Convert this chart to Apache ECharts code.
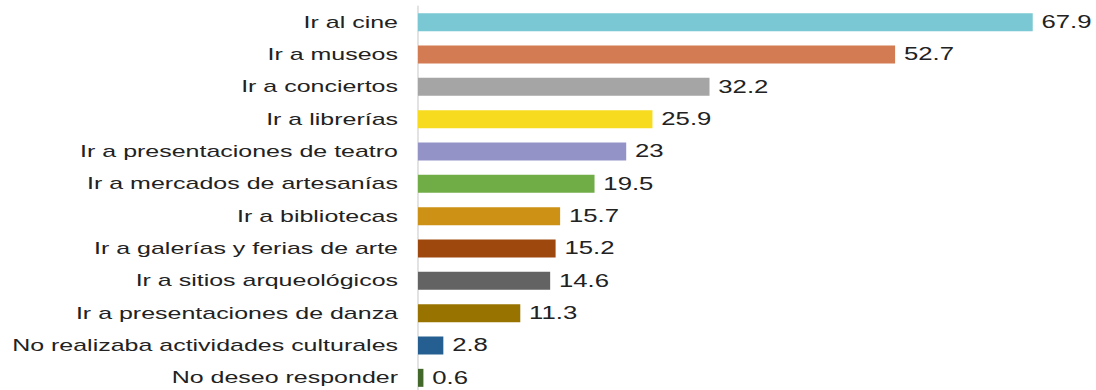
<!DOCTYPE html>
<html>
<head>
<meta charset="utf-8">
<script src="https://cdn.jsdelivr.net/npm/echarts@6/dist/echarts.min.js"></script>
<style>
  html, body { margin: 0; padding: 0; background: #fff; overflow: hidden; }
  /* the chart is laid out narrower and widened horizontally to a wide, stretched type look */
  #chart {
    width: 746px; height: 400px;
    transform: scaleX(1.4692);
    transform-origin: 0 0;
  }
</style>
</head>
<body>
<div id="chart"></div>
<script>
// Cultural activities, percentage of respondents
const categories = [
  'Ir al cine',
  'Ir a museos',
  'Ir a conciertos',
  'Ir a librerías',
  'Ir a presentaciones de teatro',
  'Ir a mercados de artesanías',
  'Ir a bibliotecas',
  'Ir a galerías y ferias de arte',
  'Ir a sitios arqueológicos',
  'Ir a presentaciones de danza',
  'No realizaba actividades culturales',
  'No deseo responder'
];
const values = [67.9, 52.7, 32.2, 25.9, 23, 19.5, 15.7, 15.2, 14.6, 11.3, 2.8, 0.6];
const barColors = [
  '#79C8D3', '#D37B53', '#A5A5A5', '#F6DB1E', '#9393C8', '#71AD47',
  '#CC9115', '#9E480E', '#636363', '#997300', '#255E91', '#43682B'
];

const chart = echarts.init(document.getElementById('chart'), null, { renderer: 'svg' });
chart.setOption({
  animation: false,
  grid: { left: 284.5, top: 6, width: 456, height: 388, containLabel: false },
  xAxis: {
    type: 'value', min: 0, max: 74,
    show: false
  },
  yAxis: {
    type: 'category',
    data: categories,
    inverse: true,
    axisLine: { show: true, lineStyle: { color: '#D9D9D9', width: 1 } },
    axisTick: { show: false },
    axisLabel: {
      color: '#222222',
      fontFamily: 'Liberation Sans, Arial, sans-serif',
      fontSize: 17,
      margin: 13.6
    }
  },
  series: [{
    type: 'bar',
    barWidth: 18,
    data: values.map((v, i) => ({ value: v, itemStyle: { color: barColors[i] } })),
    label: {
      show: true,
      position: 'right',
      distance: 6,
      color: '#222222',
      fontFamily: 'Liberation Sans, Arial, sans-serif',
      fontSize: 17.5
    }
  }]
});
</script>
</body>
</html>
